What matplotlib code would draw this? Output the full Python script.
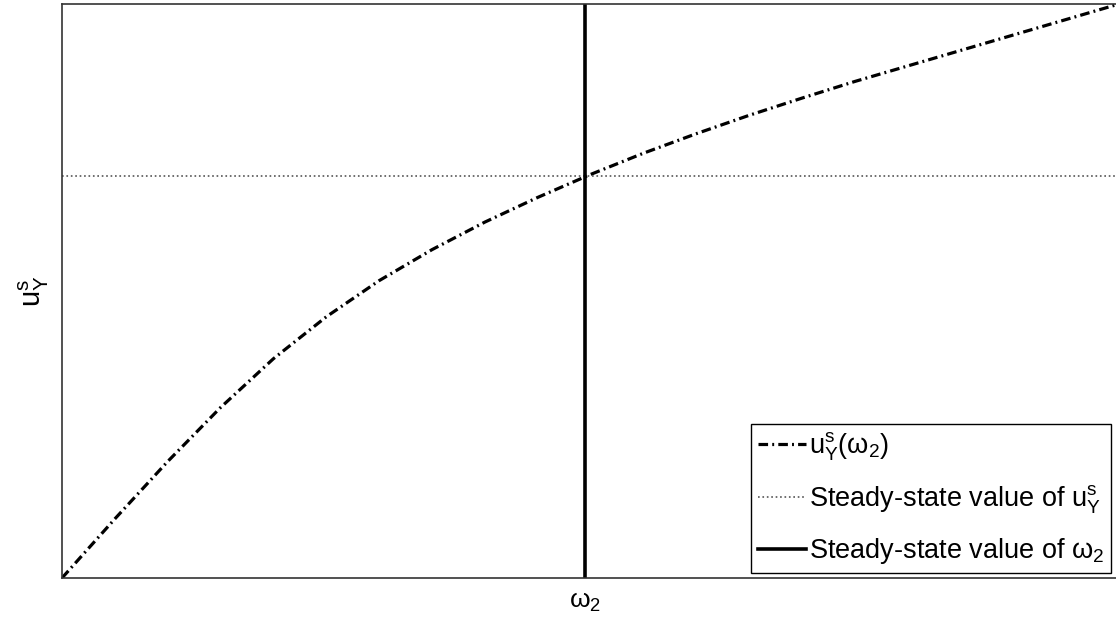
import matplotlib
matplotlib.use("Agg")
import matplotlib.pyplot as plt
import numpy as np

plt.rcParams["font.family"] = ["Liberation Sans", "DejaVu Sans"]
plt.rcParams["mathtext.fontset"] = "custom"
plt.rcParams["mathtext.rm"] = "Liberation Sans"
plt.rcParams["mathtext.it"] = "Liberation Sans"
plt.rcParams["mathtext.default"] = "regular"

# ── Données (unités normalisées) ──────────────────────────────────────────────
omega2 = [0.00, 0.05, 0.10, 0.15, 0.20, 0.25, 0.30, 0.35, 0.40, 0.45, 0.50,
          0.55, 0.60, 0.65, 0.70, 0.75, 0.80, 0.85, 0.90, 0.95, 1.00]
u_Y = [0.000, 0.103, 0.203, 0.297, 0.382, 0.455, 0.518, 0.572, 0.620, 0.663,
       0.703, 0.740, 0.774, 0.806, 0.836, 0.865, 0.892, 0.919, 0.946, 0.973,
       1.000]

omega2_ss = 0.495   # valeur stationnaire de ω2
u_Y_ss = 0.700      # valeur stationnaire de u_Y^s

labels = [r"$u_Y^s(\omega_2)$",
          r"Steady-state value of $u_Y^s$",
          r"Steady-state value of $\omega_2$"]

# ── Figure ────────────────────────────────────────────────────────────────────
W, H = 1116, 626
fig = plt.figure(figsize=(W / 100, H / 100), dpi=100)
ax = fig.add_axes([62 / W, (H - 578) / H, (1119 - 62) / W, (578 - 4) / H])

ax.plot(omega2, u_Y, color="black", linestyle="-.", linewidth=2.3,
        dashes=(3.0, 1.3, 0.6, 1.3), label=labels[0])
ax.axhline(u_Y_ss, color="#555555", linestyle=":", linewidth=1.2,
           label=labels[1])
ax.axvline(omega2_ss, color="black", linestyle="-", linewidth=2.6,
           label=labels[2])

ax.set_xlim(0, 1)
ax.set_ylim(0, 1)
ax.set_xticks([omega2_ss])
ax.set_xticklabels([r"$\omega_2$"], fontsize=19)
ax.set_yticks([])
ax.tick_params(axis="x", length=0, pad=9)
ax.set_ylabel(r"$u_Y^s$", fontsize=21, labelpad=8)

for s in ax.spines.values():
    s.set_color("#333333")
    s.set_linewidth(1.2)

leg = ax.legend(loc="lower right", bbox_to_anchor=(1111 / W, (H - 573) / H),
                bbox_transform=fig.transFigure, borderaxespad=0,
                fontsize=19.5, fancybox=False, framealpha=1,
                handlelength=1.75, handletextpad=0.12, labelspacing=0.75,
                borderpad=0.25)
leg.get_frame().set_edgecolor("black")
leg.get_frame().set_linewidth(1.0)

fig.savefig("out.png", dpi=100)
